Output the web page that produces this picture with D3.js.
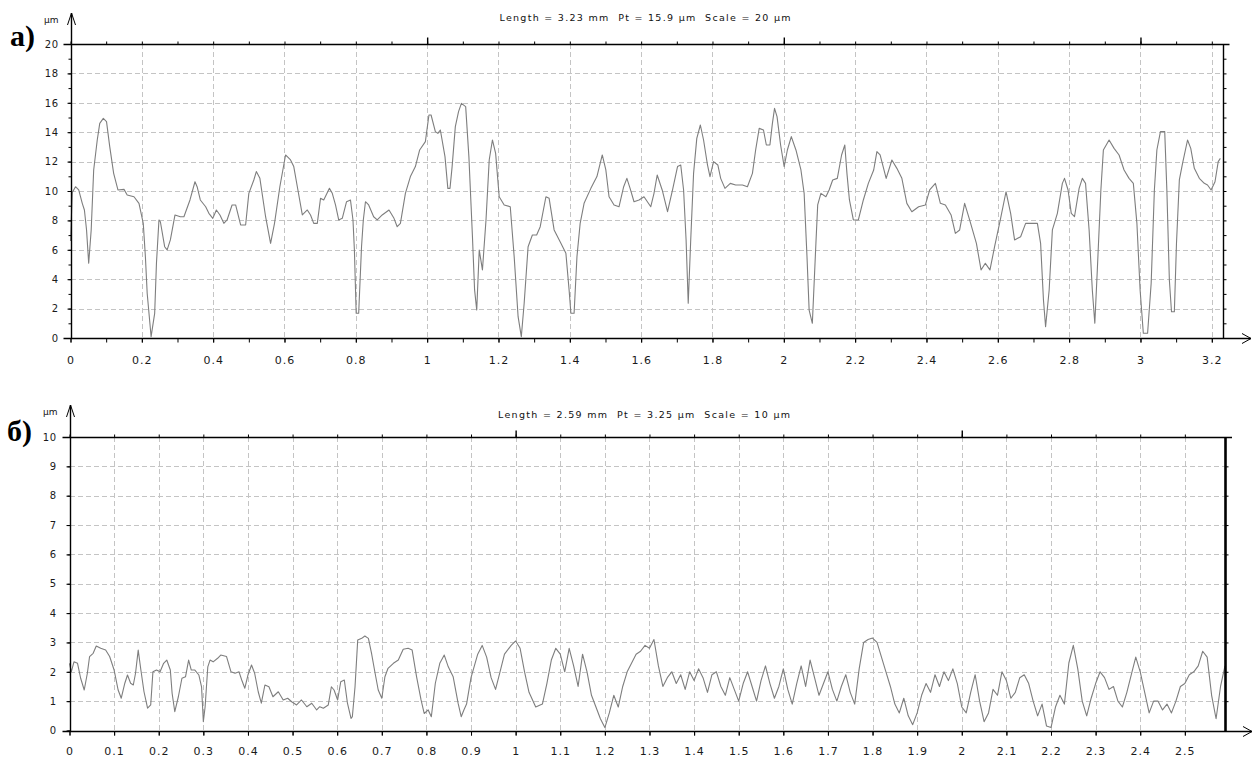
<!DOCTYPE html>
<html>
<head>
<meta charset="utf-8">
<script src="https://cdn.jsdelivr.net/npm/d3@7"></script>
<style>
  html, body { margin: 0; padding: 0; background: #fff; }
  svg { display: block; }
</style>
</head>
<body>
<svg id="chart" width="1256" height="758"></svg>
<script>
// ---- Profile (a): position along the trace, mm ----
const profileA_mm = [0.000,0.005,0.014,0.023,0.033,0.039,0.045,0.051,0.058,0.065,0.075,0.082,0.092,0.101,0.110,0.121,0.133,0.150,0.159,0.178,0.192,0.204,0.210,0.215,0.226,0.236,0.241,0.248,0.252,0.264,0.271,0.280,0.293,0.308,0.318,0.335,0.349,0.355,0.364,0.379,0.388,0.399,0.409,0.419,0.430,0.439,0.453,0.463,0.477,0.491,0.500,0.514,0.521,0.531,0.547,0.561,0.572,0.587,0.603,0.617,0.626,0.636,0.650,0.664,0.673,0.682,0.692,0.701,0.710,0.726,0.734,0.743,0.752,0.762,0.774,0.785,0.792,0.796,0.801,0.808,0.816,0.821,0.827,0.836,0.850,0.860,0.874,0.893,0.907,0.916,0.925,0.939,0.953,0.967,0.979,0.995,1.005,1.011,1.023,1.030,1.037,1.050,1.058,1.064,1.070,1.079,1.088,1.096,1.108,1.117,1.127,1.133,1.139,1.146,1.155,1.165,1.174,1.183,1.192,1.202,1.216,1.233,1.244,1.255,1.264,1.272,1.283,1.295,1.307,1.317,1.333,1.342,1.356,1.375,1.389,1.398,1.403,1.412,1.420,1.429,1.440,1.459,1.476,1.491,1.501,1.510,1.524,1.538,1.551,1.560,1.569,1.580,1.594,1.608,1.627,1.636,1.645,1.659,1.674,1.688,1.702,1.711,1.719,1.726,1.732,1.739,1.747,1.756,1.766,1.775,1.786,1.793,1.803,1.815,1.823,1.835,1.850,1.865,1.884,1.898,1.912,1.921,1.931,1.943,1.951,1.961,1.968,1.974,1.981,1.991,2.001,2.010,2.021,2.034,2.048,2.057,2.065,2.071,2.080,2.090,2.095,2.104,2.118,2.127,2.137,2.150,2.162,2.171,2.177,2.184,2.195,2.209,2.223,2.237,2.252,2.261,2.270,2.287,2.303,2.317,2.331,2.345,2.359,2.378,2.397,2.409,2.425,2.439,2.453,2.469,2.481,2.493,2.507,2.521,2.540,2.553,2.565,2.578,2.591,2.607,2.623,2.636,2.647,2.664,2.678,2.697,2.711,2.720,2.728,2.734,2.744,2.753,2.767,2.781,2.787,2.797,2.806,2.815,2.828,2.837,2.846,2.856,2.865,2.872,2.879,2.889,2.896,2.912,2.926,2.940,2.954,2.968,2.980,2.990,2.999,3.008,3.020,3.030,3.039,3.046,3.056,3.068,3.074,3.081,3.087,3.095,3.101,3.109,3.118,3.132,3.141,3.151,3.165,3.179,3.188,3.198,3.209,3.218,3.224];
// ---- Profile (a): height, µm ----
const profileA_um = [6.6,9.9,10.29,10.07,9.16,8.71,7.35,5.08,7.35,11.43,13.47,14.60,14.94,14.72,13.02,11.20,10.07,10.11,9.73,9.61,9.16,7.80,5.53,3.04,0.09,1.68,5.08,8.03,7.91,6.21,5.99,6.67,8.37,8.25,8.25,9.39,10.63,10.29,9.39,8.93,8.48,8.14,8.71,8.37,7.80,8.03,9.05,9.05,7.69,7.69,9.84,10.75,11.32,10.86,8.25,6.44,7.80,10.29,12.45,12.11,11.66,10.29,8.37,8.71,8.37,7.80,7.80,9.50,9.39,10.18,9.84,9.05,8.03,8.14,9.27,9.39,8.03,5.99,1.68,1.68,6.21,8.03,9.27,9.05,8.25,8.03,8.37,8.71,8.14,7.57,7.80,9.84,10.98,11.66,12.79,13.36,15.17,15.17,14.04,13.92,14.15,12.34,10.18,10.18,11.66,14.38,15.40,15.96,15.74,12.34,6.89,3.27,1.90,5.99,4.63,8.03,12.11,13.47,12.56,9.61,9.05,8.93,5.53,1.45,0.09,2.36,6.21,7.01,7.01,7.57,9.61,9.50,7.35,6.44,5.76,3.27,1.68,1.68,5.53,7.80,9.16,10.18,10.98,12.45,11.43,9.61,9.05,8.93,10.29,10.86,10.18,9.27,9.39,9.61,8.93,9.84,11.09,10.07,8.59,10.07,11.66,11.77,10.07,6.67,2.36,6.67,11.20,13.58,14.49,13.47,11.77,10.98,12.00,11.77,10.86,10.18,10.52,10.41,10.41,10.29,11.20,12.79,14.26,14.15,13.13,13.13,14.60,15.62,15.06,13.13,11.66,12.79,13.70,12.79,11.43,9.84,5.53,1.90,1.00,6.44,9.05,9.84,9.61,10.07,10.75,10.86,12.45,13.13,11.20,9.39,8.03,8.03,9.39,10.52,11.43,12.68,12.45,10.86,12.11,11.54,10.86,9.16,8.59,8.93,9.05,10.07,10.52,9.16,9.05,8.37,7.12,7.35,9.16,8.03,6.44,4.63,5.08,4.63,6.21,8.03,9.95,8.48,6.67,6.89,7.80,7.80,7.80,6.44,2.59,0.77,3.27,7.35,8.48,10.52,10.86,10.07,8.48,8.25,10.18,10.86,10.52,7.35,3.27,1.00,4.63,10.07,12.79,13.47,12.90,12.45,11.43,10.86,10.52,7.80,3.27,0.32,0.32,3.72,10.07,12.79,14.04,14.04,10.07,3.95,1.79,1.79,6.44,10.75,11.88,13.47,12.90,11.54,10.86,10.52,10.41,10.07,10.63,12.00,12.22];

// ---- Profile (b): position along the trace, mm ----
const profileB_mm = [0.000,0.004,0.010,0.018,0.025,0.033,0.040,0.045,0.053,0.060,0.070,0.081,0.090,0.100,0.109,0.116,0.124,0.130,0.137,0.143,0.148,0.154,0.160,0.167,0.175,0.182,0.187,0.195,0.203,0.211,0.218,0.226,0.230,0.236,0.244,0.252,0.260,0.267,0.273,0.281,0.290,0.296,0.300,0.304,0.310,0.315,0.322,0.332,0.339,0.352,0.362,0.371,0.380,0.386,0.393,0.400,0.408,0.415,0.423,0.430,0.438,0.447,0.456,0.468,0.479,0.489,0.498,0.509,0.520,0.532,0.543,0.554,0.561,0.569,0.580,0.587,0.593,0.601,0.608,0.616,0.623,0.631,0.634,0.640,0.646,0.655,0.662,0.670,0.677,0.685,0.692,0.700,0.707,0.714,0.726,0.737,0.748,0.759,0.768,0.778,0.788,0.795,0.804,0.811,0.820,0.830,0.840,0.849,0.860,0.871,0.878,0.884,0.890,0.900,0.915,0.925,0.935,0.945,0.955,0.965,0.975,0.990,1.000,1.010,1.020,1.030,1.045,1.060,1.070,1.080,1.090,1.100,1.110,1.120,1.130,1.140,1.150,1.160,1.170,1.180,1.190,1.200,1.210,1.220,1.230,1.240,1.250,1.260,1.270,1.280,1.290,1.300,1.310,1.320,1.330,1.340,1.350,1.360,1.370,1.380,1.390,1.400,1.410,1.420,1.430,1.440,1.450,1.460,1.470,1.480,1.490,1.500,1.510,1.520,1.530,1.540,1.550,1.560,1.570,1.580,1.590,1.600,1.610,1.620,1.630,1.640,1.650,1.660,1.670,1.680,1.690,1.700,1.710,1.720,1.730,1.740,1.750,1.760,1.770,1.780,1.790,1.800,1.810,1.820,1.830,1.840,1.850,1.860,1.870,1.880,1.890,1.900,1.910,1.920,1.930,1.940,1.950,1.960,1.970,1.980,1.990,2.000,2.010,2.020,2.030,2.040,2.050,2.060,2.070,2.080,2.090,2.100,2.110,2.120,2.130,2.140,2.150,2.160,2.170,2.180,2.190,2.200,2.210,2.220,2.230,2.240,2.250,2.260,2.270,2.280,2.290,2.300,2.310,2.320,2.330,2.340,2.350,2.360,2.370,2.380,2.390,2.400,2.410,2.420,2.430,2.440,2.450,2.460,2.470,2.480,2.490,2.500,2.510,2.520,2.530,2.540,2.550,2.560,2.570,2.580,2.590];
// ---- Profile (b): height, µm ----
const profileB_um = [2.29,2.00,2.34,2.29,1.78,1.38,1.95,2.52,2.63,2.88,2.80,2.74,2.52,2.06,1.38,1.10,1.61,1.89,1.61,1.55,1.95,2.74,2.06,1.32,0.76,0.87,2.00,2.06,2.00,2.29,2.40,2.06,1.27,0.64,1.15,1.78,1.83,2.40,2.06,2.06,1.89,1.49,0.30,0.81,2.17,2.40,2.34,2.46,2.57,2.52,2.00,1.95,2.00,1.72,1.44,1.89,2.23,1.95,1.32,0.93,1.55,1.49,1.15,1.32,1.04,1.10,0.98,0.87,1.04,0.81,0.93,0.70,0.81,0.76,0.87,1.49,1.38,1.04,1.66,1.72,0.93,0.41,0.47,1.49,3.08,3.14,3.22,3.14,2.63,1.95,1.38,1.10,1.83,2.12,2.29,2.40,2.77,2.80,2.74,1.83,1.04,0.58,0.70,0.47,1.61,2.29,2.57,2.17,1.83,0.93,0.47,0.70,0.9,1.8,2.6,2.9,2.5,1.8,1.4,2.0,2.6,2.9,3.05,2.8,2.0,1.3,0.8,0.9,1.6,2.4,2.8,2.6,2.0,2.8,2.2,1.5,2.6,2.0,1.2,0.8,0.4,0.1,0.6,1.2,0.8,1.5,2.0,2.3,2.6,2.7,2.9,2.8,3.1,2.2,1.5,1.8,2.0,1.6,1.9,1.4,2.0,1.7,2.1,1.8,1.3,1.9,2.0,1.5,1.2,1.8,1.4,1.0,1.6,2.0,1.5,1.0,1.7,2.2,1.6,1.1,1.5,2.1,1.4,0.9,1.6,2.2,1.5,2.4,1.8,1.2,1.6,2.0,1.4,1.0,1.5,1.9,1.3,0.9,2.1,3.0,3.1,3.15,3.0,2.5,2.0,1.5,0.9,0.6,1.1,0.5,0.2,0.6,1.2,1.6,1.3,1.9,1.5,2.0,1.7,2.1,1.6,0.8,0.6,1.3,1.9,1.0,0.3,0.6,1.4,1.2,2.0,1.7,1.1,1.3,1.8,1.9,1.6,1.0,0.5,0.9,0.15,0.1,0.8,1.2,0.9,2.3,2.9,2.1,1.0,0.5,1.1,1.6,2.0,1.8,1.4,1.5,1.0,0.8,1.3,1.9,2.5,2.0,1.3,0.6,1.0,1.0,0.7,0.9,0.6,1.0,1.5,1.6,1.9,2.0,2.2,2.7,2.5,1.2,0.4,1.5,2.2];

// ---- Axis tick labels ----
const ticksA_x = [0,0.2,0.4,0.6,0.8,1,1.2,1.4,1.6,1.8,2,2.2,2.4,2.6,2.8,3,3.2];
const ticksA_y = [0,2,4,6,8,10,12,14,16,18,20];
const ticksB_x = [0,0.1,0.2,0.3,0.4,0.5,0.6,0.7,0.8,0.9,1,1.1,1.2,1.3,1.4,1.5,1.6,1.7,1.8,1.9,2,2.1,2.2,2.3,2.4,2.5];
const ticksB_y = [0,1,2,3,4,5,6,7,8,9,10];

// ---- Headers ----
const titleA = "Length = 3.23 mm  Pt = 15.9 µm  Scale = 20 µm";
const titleB = "Length = 2.59 mm  Pt = 3.25 µm  Scale = 10 µm";
const lengthA = 3.23, scaleA = 20;
const lengthB = 2.59, scaleB = 10;

const svg = d3.select("#chart");
const FONT = "'DejaVu Sans', 'Liberation Sans', Arial, sans-serif";
const plain = d => `${d}`;

function drawPanel(p) {
  const x = d3.scaleLinear().domain([0, p.length]).range([p.left, p.right]);
  const y = d3.scaleLinear().domain([0, p.scale]).range([p.bottom, p.top]);
  const g = svg.append("g");
  const px = v => Math.round(x(v)) + 0.5;
  const py = v => Math.round(y(v)) + 0.5;

  // dashed grid
  const grid = g.append("g").attr("stroke", "#c4c4c4").attr("stroke-width", 1)
    .attr("stroke-dasharray", "5,3").attr("shape-rendering", "crispEdges");
  grid.selectAll("line.v").data(p.gridX).join("line").attr("class", "v")
    .attr("x1", px).attr("x2", px).attr("y1", p.top).attr("y2", p.bottom);
  grid.selectAll("line.h").data(p.gridY).join("line").attr("class", "h")
    .attr("x1", p.left).attr("x2", p.right).attr("y1", py).attr("y2", py);

  // surface profile
  g.append("path")
    .datum(d3.zip(p.xs, p.ys))
    .attr("d", d3.line().x(d => x(d[0])).y(d => y(d[1])))
    .attr("fill", "none").attr("stroke", "#7e7e7e").attr("stroke-width", 1.1)
    .attr("stroke-linejoin", "round");

  const ax = g.append("g").attr("stroke", "#000").attr("fill", "none");

  // frame lines
  const bottomY = Math.round(p.bottom) + 0.5, topY = Math.round(p.top) + 0.5;
  const leftX = Math.round(p.left) + 0.5, rightX = Math.round(p.right) + 0.5;
  ax.append("line").attr("x1", p.left - 7).attr("x2", p.arrowTip).attr("y1", bottomY).attr("y2", bottomY).attr("stroke-width", 1.4);
  ax.append("line").attr("x1", p.left - 7).attr("x2", p.right + 7).attr("y1", topY).attr("y2", topY).attr("stroke-width", 1.4);
  ax.append("line").attr("x1", leftX).attr("x2", leftX).attr("y1", p.apex).attr("y2", bottomY).attr("stroke-width", 1.4);
  ax.append("line").attr("x1", rightX).attr("x2", rightX).attr("y1", topY).attr("y2", bottomY).attr("stroke-width", p.rightWidth);

  // arrow heads
  ax.append("path").attr("stroke-width", 1)
    .attr("d", `M${p.arrowTip - 9},${bottomY - 5}L${p.arrowTip},${bottomY}L${p.arrowTip - 9},${bottomY + 5}`);
  ax.append("path").attr("stroke-width", 1)
    .attr("d", `M${leftX - 4},${p.apex + 12}L${leftX},${p.apex}L${leftX + 4},${p.apex + 12}`);

  // bottom axis with labels
  const bAx = g.append("g").attr("transform", `translate(0,${bottomY})`)
    .call(d3.axisBottom(x).tickValues(p.ticksX).tickFormat(plain).tickSize(4).tickSizeOuter(0).tickPadding(p.xPad));
  bAx.select(".domain").remove();
  bAx.selectAll("line").attr("stroke", "#000");
  bAx.selectAll("text").attr("font-family", FONT).attr("font-size", 11)
    .attr("fill", "#1a1a1a").attr("letter-spacing", "1px");

  // minor bottom ticks
  const minorX = d3.range(0, p.length + 1e-9, 0.1).map(v => +v.toFixed(2));
  g.append("g").attr("transform", `translate(0,${bottomY})`)
    .call(d3.axisBottom(x).tickValues(minorX).tickSize(4).tickSizeOuter(0).tickFormat(""))
    .call(s => s.select(".domain").remove())
    .selectAll("line").attr("stroke", "#000");

  // top ticks: every 0.1 mm, longer at whole millimetres
  g.append("g").attr("transform", `translate(0,${topY})`)
    .call(d3.axisTop(x).tickValues(minorX).tickSize(3).tickSizeOuter(0).tickFormat(""))
    .call(s => s.select(".domain").remove())
    .selectAll("line").attr("stroke", "#000");
  g.append("g").attr("transform", `translate(0,${topY})`)
    .call(d3.axisTop(x).tickValues(minorX.filter(v => v > 0 && Math.abs(v - Math.round(v)) < 1e-6)).tickSize(7).tickSizeOuter(0).tickFormat(""))
    .call(s => s.select(".domain").remove())
    .selectAll("line").attr("stroke", "#000").attr("stroke-width", 1.4);

  // left axis with labels
  const lAx = g.append("g").attr("transform", `translate(${leftX},0)`)
    .call(d3.axisLeft(y).tickValues(p.ticksY).tickFormat(plain).tickSize(4).tickSizeOuter(0).tickPadding(p.yPad));
  lAx.select(".domain").remove();
  lAx.selectAll("line").attr("stroke", "#000");
  lAx.selectAll("text").attr("font-family", FONT).attr("font-size", 10)
    .attr("fill", "#1a1a1a").attr("letter-spacing", "0.5px");

  const minorY = d3.range(0, p.scale + 1e-9, 1);
  g.append("g").attr("transform", `translate(${leftX},0)`)
    .call(d3.axisLeft(y).tickValues(minorY).tickSize(3).tickSizeOuter(0).tickFormat(""))
    .call(s => s.select(".domain").remove())
    .selectAll("line").attr("stroke", "#000");

  // right-hand ticks
  g.append("g").attr("transform", `translate(${rightX},0)`)
    .call(d3.axisRight(y).tickValues(minorY.filter(v => v > 0 && v < p.scale)).tickSize(3).tickSizeOuter(0).tickFormat(""))
    .call(s => s.select(".domain").remove())
    .selectAll("line").attr("stroke", "#000");

  // unit label
  g.append("text").attr("x", p.left - 12).attr("y", p.apex + 10).attr("text-anchor", "end")
    .attr("font-family", FONT).attr("font-size", 9).attr("fill", "#111").text("µm");

  // header
  g.append("text").attr("x", p.titleX).attr("y", p.titleY).attr("text-anchor", "middle")
    .attr("font-family", FONT).attr("font-size", 9.5).attr("fill", "#111")
    .attr("textLength", p.titleW).attr("lengthAdjust", "spacing")
    .attr("xml:space", "preserve").style("white-space", "pre").text(p.title);

  // panel letter
  g.append("text").attr("x", p.letterX).attr("y", p.letterY)
    .attr("font-family", "'Liberation Serif', 'Times New Roman', serif")
    .attr("font-weight", "bold").attr("font-size", 30).attr("fill", "#000").text(p.letter);
}

drawPanel({
  xs: profileA_mm, ys: profileA_um, length: lengthA, scale: scaleA,
  left: 70.5, right: 1222.5, top: 44, bottom: 338,
  gridX: ticksA_x.filter(v => v > 0), gridY: ticksA_y.filter(v => v > 0 && v < scaleA),
  ticksX: ticksA_x, ticksY: ticksA_y, xPad: 14, yPad: 9,
  apex: 13, arrowTip: 1251, rightWidth: 1.4,
  title: titleA, titleX: 645, titleY: 21, titleW: 291,
  letter: "а)", letterX: 10, letterY: 46
});

drawPanel({
  xs: profileB_mm, ys: profileB_um, length: lengthB, scale: scaleB,
  left: 69.5, right: 1225, top: 437, bottom: 730.5,
  gridX: ticksB_x.filter(v => v > 0), gridY: ticksB_y.filter(v => v > 0 && v < scaleB),
  ticksX: ticksB_x, ticksY: ticksB_y, xPad: 12, yPad: 10,
  apex: 405, arrowTip: 1252, rightWidth: 2.6,
  title: titleB, titleX: 644, titleY: 418, titleW: 292,
  letter: "б)", letterX: 7, letterY: 441
});
</script>
</body>
</html>
